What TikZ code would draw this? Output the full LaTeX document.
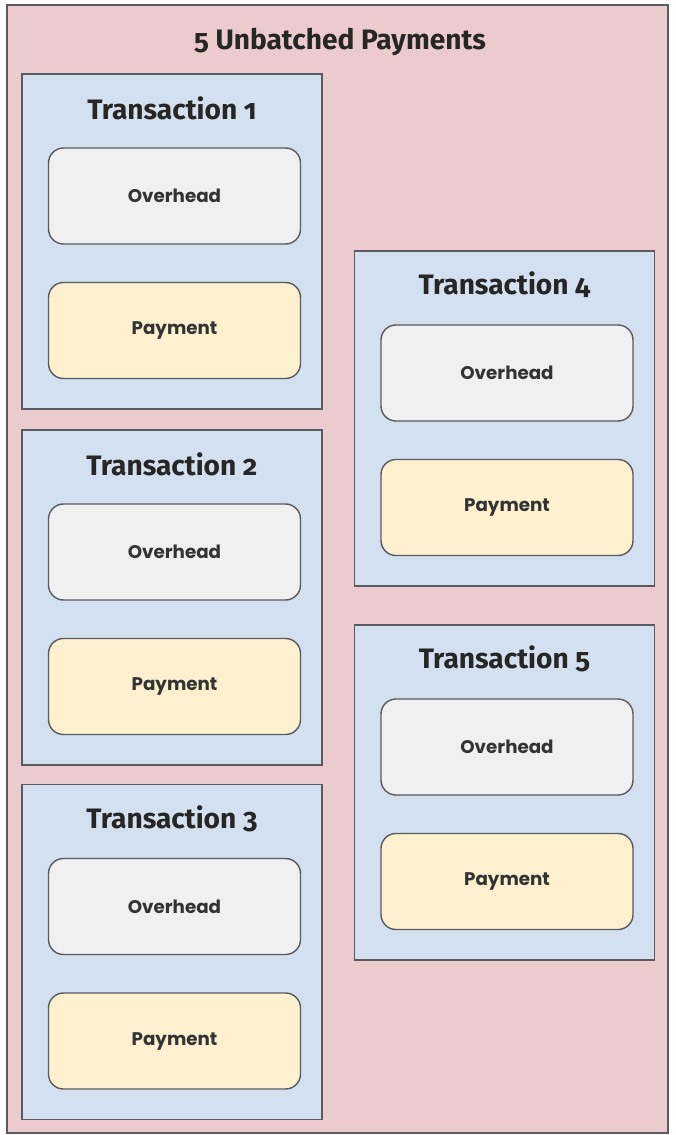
\documentclass[tikz,border=0pt]{standalone}
\usepackage{fontspec}
\setmainfont{Fira Sans}[Numbers=OldStyle]
\newfontfamily\labelfont{Poppins}
\definecolor{framepink}{RGB}{235, 203, 206}
\definecolor{txnblue}{RGB}{210, 224, 239}
\definecolor{overgray}{RGB}{240, 240, 240}
\definecolor{payyellow}{RGB}{252, 240, 207}
\definecolor{edgegray}{RGB}{90, 90, 96}
\tikzset{%
    outerbox/.style={draw=edgegray, line width=1pt, fill=framepink,
        minimum width=13.22cm, minimum height=22.56cm},
    txnbox/.style={draw=edgegray, line width=1pt, fill=txnblue,
        minimum width=6cm, minimum height=6.7cm},
    txntitle/.style={font=\fontsize{16}{19}\selectfont\bfseries, text=black!85},
    part/.style={draw=edgegray, line width=0.8pt, rounded corners=0.3cm,
        minimum width=5.04cm, minimum height=1.92cm,
        font=\labelfont\fontsize{10.4}{12}\selectfont\bfseries, text=black!80},
    overhead/.style={part, fill=overgray},
    payment/.style={part, fill=payyellow},
    txn/.pic={%
        code{%
            \node[txnbox] (-box) at (0, 0) {};
            \node[txntitle] (-title) at (0, 2.67) {Transaction #1};
            \node[overhead] (-overhead) at (0.05, 0.91) {Overhead};
            \node[payment] (-payment) at (0.05, -1.78) {Payment};
        }
    }
}
\begin{document}
\begin{tikzpicture}

    \useasboundingbox (0, 0) rectangle (13.5, -22.7);

    % Frame
    \node[outerbox] (frame) at (6.75, -11.38) {};
    \node[txntitle] (heading) at (6.8, -0.84) {5 Unbatched Payments};

    % Transactions, left column
    \pic (t1) at (3.44, -4.83) {txn=1};
    \pic (t2) at (3.44, -11.95) {txn=2};
    \pic (t3) at (3.44, -19.04) {txn=3};

    % Transactions, right column
    \pic (t4) at (10.09, -8.37) {txn=4};
    \pic (t5) at (10.09, -15.85) {txn=5};

\end{tikzpicture}
\end{document}
